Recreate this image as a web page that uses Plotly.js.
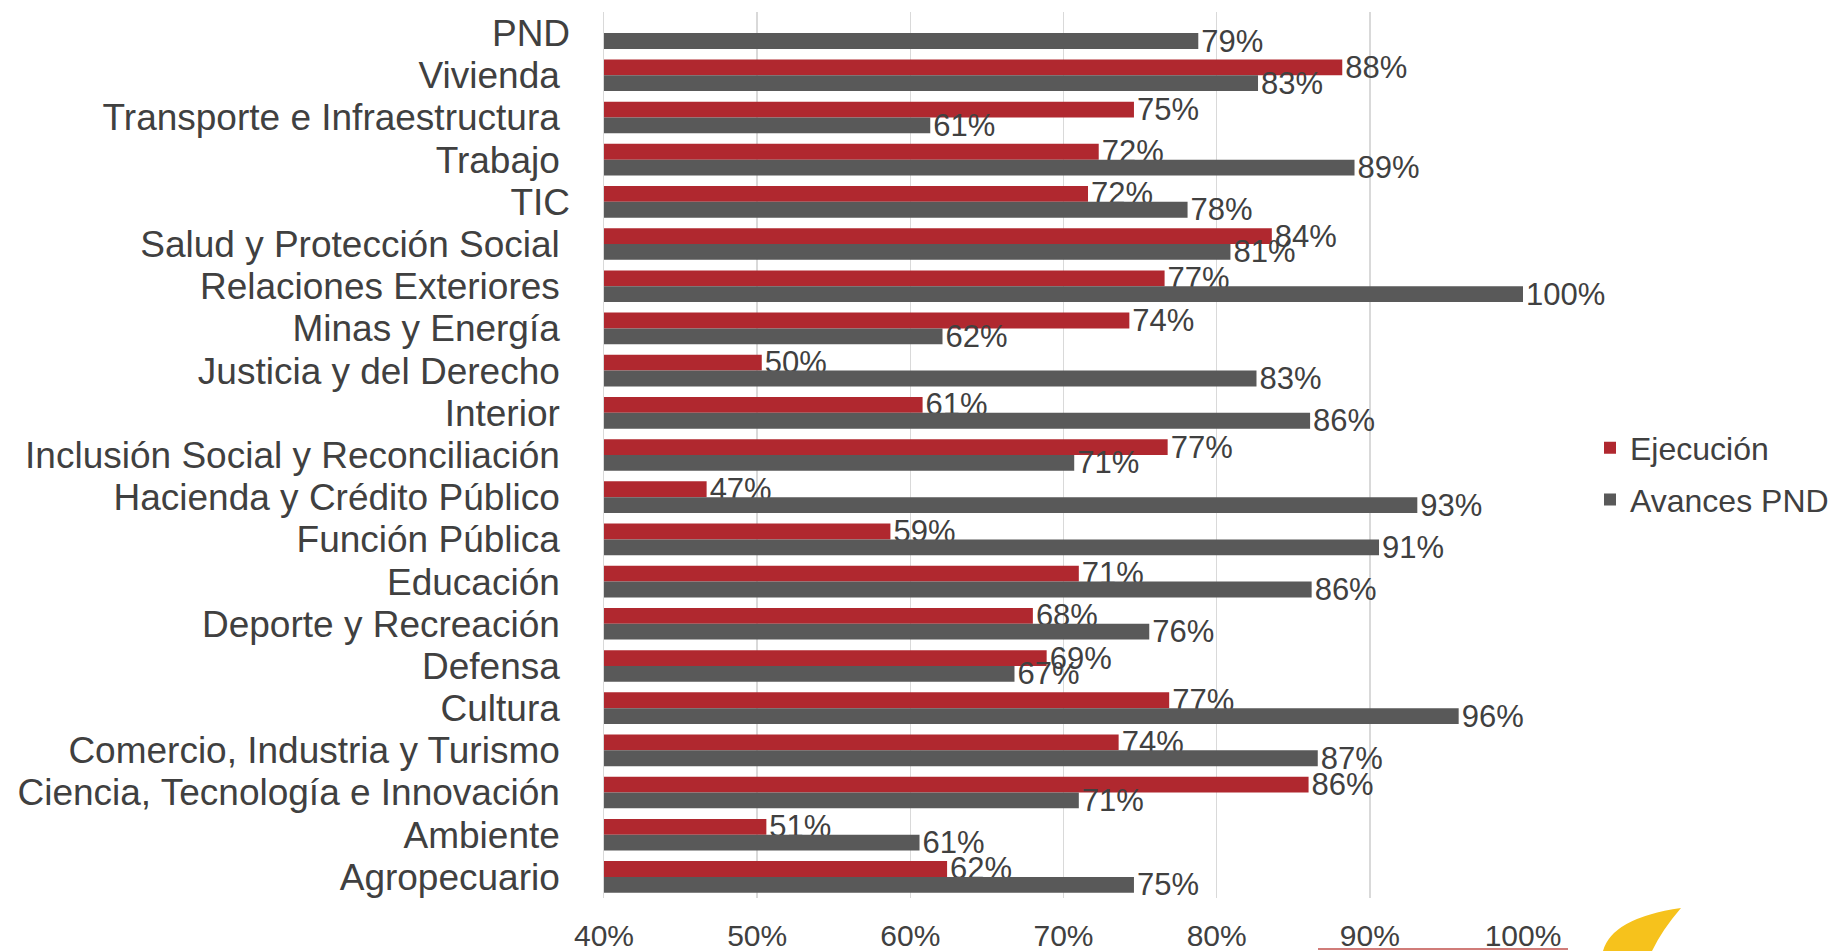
<!DOCTYPE html>
<html>
<head>
<meta charset="utf-8">
<script src="https://cdn.plot.ly/plotly-3.0.1.min.js"></script>
<style>
html,body{margin:0;padding:0;background:#fff;}
#chart{width:1831px;height:951px;}
</style>
</head>
<body>
<div id="chart"></div>
<script>
var categories = ["PND","Vivienda","Transporte e Infraestructura","Trabajo","TIC","Salud y Protección Social","Relaciones Exteriores","Minas y Energía","Justicia y del Derecho","Interior","Inclusión Social y Reconciliación","Hacienda y Crédito Público","Función Pública","Educación","Deporte y Recreación","Defensa","Cultura","Comercio, Industria y Turismo","Ciencia, Tecnología e Innovación","Ambiente","Agropecuario"];
var ejecucion = [null,88.2,74.6,72.3,71.6,83.6,76.6,74.3,50.3,60.8,76.8,46.7,58.7,71.0,68.0,68.9,76.9,73.6,86.0,50.6,62.4];
var avancesPND = [78.8,82.7,61.3,89.0,78.1,80.9,100,62.1,82.6,86.1,70.7,93.1,90.6,86.2,75.6,66.8,95.8,86.6,71.0,60.6,74.6];
var xTickVals = [40,50,60,70,80,90,100];
var xTickText = ["40%","50%","60%","70%","80%","90%","100%"];
var yTickText = categories.map(function(c){ return (c === "PND" || c === "TIC") ? c : c + "\u00a0"; });

var FONT = "Arial, Liberation Sans, sans-serif";
var TXT = "#404040";

var L = 604, R = 1523, T = 12, B = 898;
function px(x){ return (x - L) / (R - L); }
function py(y){ return (B - y) / (B - T); }

var traces = [
  {type:"bar", orientation:"h", name:"Ejecución", y:categories, x:ejecucion,
   marker:{color:"#B0282F"}, legendgroup:"a",
   texttemplate:"%{x:.0f}%", textposition:"outside", cliponaxis:false, constraintext:"none",
   textfont:{family:FONT, size:31, color:TXT}, hoverinfo:"x+y"},
  {type:"bar", orientation:"h", name:"Avances PND", y:categories, x:avancesPND,
   marker:{color:"#595959"}, legendgroup:"b",
   texttemplate:"%{x:.0f}%", textposition:"outside", cliponaxis:false, constraintext:"none",
   textfont:{family:FONT, size:31, color:TXT}, hoverinfo:"x+y"}
];

var leaf = "M " + px(1603) + "," + py(951) +
  " Q " + px(1612) + "," + py(918) + " " + px(1681) + "," + py(908) +
  " Q " + px(1662) + "," + py(930) + " " + px(1652) + "," + py(951) + " Z";

var layout = {
  width:1831, height:951,
  margin:{l:L, r:1831-R, t:T, b:951-B, pad:0, autoexpand:false},
  paper_bgcolor:"#fff", plot_bgcolor:"#fff",
  font:{family:FONT, color:TXT},
  barmode:"group", bargap:0.25, bargroupgap:0,
  showlegend:true,
  legend:{x:px(1590), xanchor:"left", y:py(474), yanchor:"middle",
          font:{family:FONT, size:32, color:TXT}, traceorder:"grouped",
          tracegroupgap:7, bgcolor:"rgba(0,0,0,0)"},
  xaxis:{range:[40,100], tickvals:xTickVals, ticktext:xTickText,
         showgrid:true, gridcolor:"#D9D9D9", gridwidth:1.5,
         zeroline:false, showline:false, ticks:"", automargin:false,
         tickfont:{family:FONT, size:30, color:TXT}, ticklabelstandoff:17},
  yaxis:{type:"category", autorange:"reversed", tickvals:categories, ticktext:yTickText,
         showgrid:false, zeroline:false, showline:true, linecolor:"#D9D9D9", linewidth:1.5,
         ticks:"", automargin:false, tickfont:{family:FONT, size:37, color:TXT}, ticklabelstandoff:25},
  shapes:[
    {type:"path", xref:"paper", yref:"paper", path:leaf, fillcolor:"#F6C21C", line:{width:0}, layer:"above"},
    {type:"line", xref:"paper", yref:"paper", x0:px(1318), x1:px(1568), y0:py(949), y1:py(949), line:{color:"#C0504D", width:1.5}}
  ]
};

Plotly.newPlot("chart", traces, layout, {displayModeBar:false, staticPlot:true});
</script>
</body>
</html>
